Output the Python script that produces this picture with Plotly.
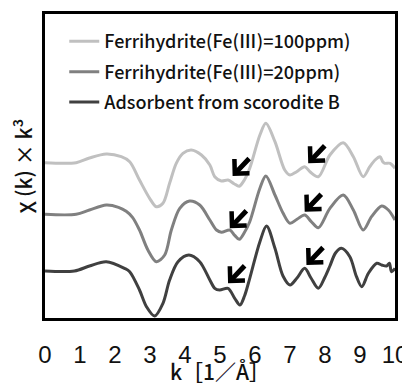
import plotly.graph_objects as go

# k values [1/Å] and chi(k)*k^3 (arbitrary units, each relative to its own baseline)
k_light = [0, 0.89, 1.27, 1.75, 2.18, 2.42, 2.70, 2.99, 3.18, 3.37, 3.56, 3.75, 3.94, 4.18, 4.47,
           4.71, 4.85, 5.04, 5.23, 5.40, 5.55, 5.70, 5.85, 6.14, 6.31, 6.57, 6.85, 7.00, 7.19,
           7.42, 7.57, 7.81, 8.14, 8.52, 8.81, 9.09, 9.28, 9.43, 9.57, 9.65, 9.71, 9.86, 10.0]
v_light = [0, 0, 0.47, 0.87, 0.6, 0.1, -1.73, -3.56, -4.4, -4.06, -2.06, -0.06, 0.94, 1.27, 0.77,
           -0.23, -1.4, -1.83, -1.73, -2.1, -2.35, -1.7, -0.56, 2.77, 3.94, 2.1, -0.73, -1.23, -0.9,
           -0.4, -0.9, -1.4, 0.77, 2.0, 0.6, -1.4, -0.4, 0.27, 0.6, 0.1, -0.06, -0.06, -0.56]

k_mid = [0, 0.89, 1.27, 1.75, 2.10, 2.32, 2.50, 2.70, 2.94, 3.18, 3.42, 3.61, 3.85, 4.13, 4.42,
         4.71, 4.90, 5.04, 5.28, 5.42, 5.55, 5.70, 5.85, 6.14, 6.31, 6.57, 6.80, 7.00, 7.20,
         7.42, 7.60, 7.81, 8.14, 8.52, 8.81, 9.09, 9.33, 9.62, 9.81, 10.0]
v_mid = [0, 0, 0.43, 0.93, 0.7, 0.3, -0.3, -1.57, -3.57, -4.74, -4.07, -1.57, 0.6, 1.33, 0.93,
         -0.57, -1.57, -1.8, -1.57, -2.1, -2.5, -1.8, -0.74, 2.6, 3.83, 1.93, 0.13, -0.9, -0.5,
         -0.07, -0.7, -1.34, 0.6, 1.93, 0.43, -1.57, -0.24, 0.83, 0.43, -0.57]

k_dark = [0, 0.84, 1.27, 1.75, 2.27, 2.42, 2.70, 2.90, 3.13, 3.37, 3.56, 3.80, 4.11, 4.42, 4.71,
          4.85, 4.99, 5.23, 5.42, 5.57, 5.70, 5.85, 6.14, 6.33, 6.57, 6.80, 7.00, 7.20, 7.42,
          7.60, 7.81, 8.00, 8.14, 8.30, 8.47, 8.71, 8.90, 9.05, 9.24, 9.48, 9.62, 9.76, 9.84,
          9.90, 10.0]
v_dark = [0, 0, 0.5, 0.93, 0.27, -0.07, -1.9, -3.57, -4.5, -3.23, -0.9, 0.93, 1.6, 0.93, -0.9,
          -1.73, -1.9, -1.73, -2.73, -3.4, -2.5, -0.73, 2.93, 4.5, 2.27, -0.5, -1.4, -0.7, 0.27,
          -0.7, -1.73, -0.6, 0.5, 1.8, 2.27, 1.43, -0.57, -1.57, -0.23, 0.77, 0.6, 0.5, 0.77,
          -0.07, 0.27]

series_names = ["Ferrihydrite(Fe(Ⅲ)=100ppm)", "Ferrihydrite(Fe(Ⅲ)=20ppm)", "Adsorbent from scorodite B"]
series_offsets = [10.83, 5.67, 0.0]
series_colors = ["#c0c0c0", "#808080", "#404040"]

# arrow tips (k, stacked value)
arrow_k = [5.36, 7.52, 5.28, 7.42, 5.23, 7.47]
arrow_v = [9.5, 10.77, 4.27, 5.93, -1.23, 0.6]

x_ticks = list(range(0, 11))
x_title = "k［1／Å］"
y_title = "χ (k) × k³"

FONT = "Noto Sans CJK JP, Noto Sans, sans-serif"

fig = go.Figure()
for name, ks, vs, off, col in zip(series_names, [k_light, k_mid, k_dark], [v_light, v_mid, v_dark],
                                  series_offsets, series_colors):
    fig.add_trace(go.Scatter(x=ks, y=[v + off for v in vs], mode="lines", name=name,
                             legendgroup=name,
                             line=dict(color=col, width=3, shape="spline", smoothing=0.9)))

for ak, av in zip(arrow_k, arrow_v):
    fig.add_annotation(x=ak, y=av, ax=18, ay=-19, text="", showarrow=True,
                       arrowhead=4, arrowsize=0.8, arrowwidth=5, arrowcolor="black",
                       standoff=0, startstandoff=0)

# x-axis title placed just under the tick labels (as in the original)
fig.add_annotation(x=0.5, y=-0.118, xref="paper", yref="paper", xanchor="center", yanchor="top",
                   text=x_title, showarrow=False,
                   font=dict(size=21, family=FONT, color="#111", weight=500))

# the page body adds an 8px margin, so the figure is sized 8px smaller to fit the window
fig.update_layout(
    width=402, height=379,
    margin=dict(l=37, r=15, t=6, b=69, autoexpand=False),
    paper_bgcolor="white", plot_bgcolor="white",
    font=dict(family=FONT, color="#111"),
    showlegend=True,
    legend=dict(x=0.055, y=0.97, xanchor="left", yanchor="top", bgcolor="rgba(0,0,0,0)",
                font=dict(size=18, family=FONT, color="#111", weight=500), tracegroupgap=4,
                itemwidth=30),
    xaxis=dict(range=[0, 10], tickvals=x_ticks, ticktext=[str(t) for t in x_ticks],
               showgrid=False, zeroline=False, showline=True, linecolor="black", linewidth=2.5,
               mirror=True, ticks="", automargin=False,
               tickfont=dict(size=24, family="Liberation Sans, Arial, sans-serif", color="#111"),
               ticklabelstandoff=13),
    yaxis=dict(range=[-4.7, 25.7], showticklabels=False, showgrid=False, zeroline=False,
               showline=True, linecolor="black", linewidth=2.5, mirror=True, ticks="",
               automargin=False,
               title=dict(text=y_title, font=dict(size=21, family=FONT, color="#111", weight=500),
                          standoff=6)),
)

fig.write_html("out.html")
